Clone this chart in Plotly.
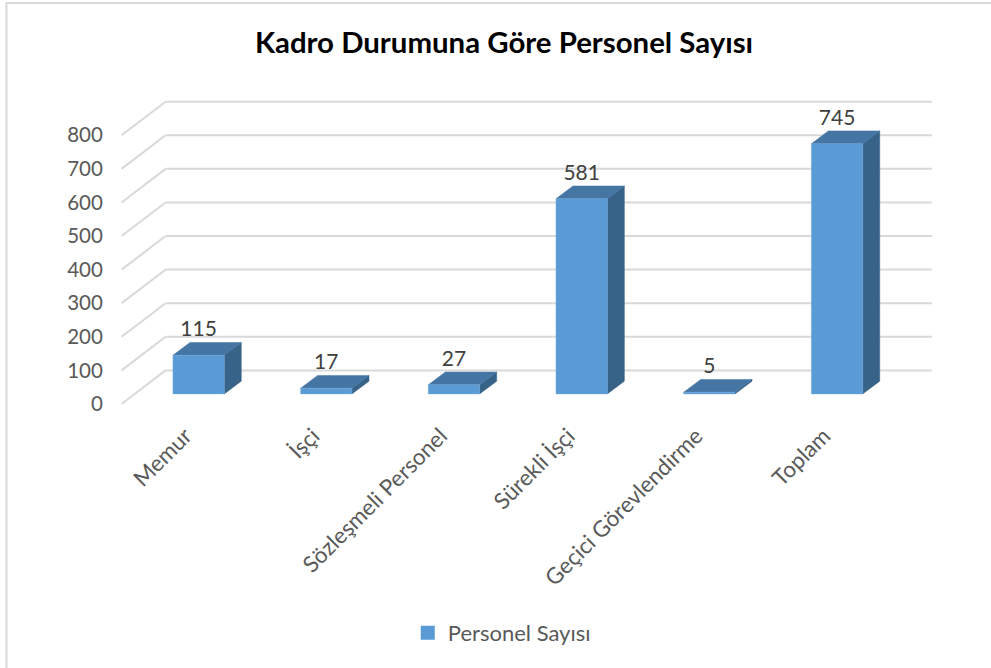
import plotly.graph_objects as go

categories = ["Memur", "İşçi", "Sözleşmeli Personel", "Sürekli İşçi", "Geçici Görevlendirme", "Toplam"]
values = [115, 17, 27, 581, 5, 745]
y_ticks = [0, 100, 200, 300, 400, 500, 600, 700, 800]
series_name = "Personel Sayısı"
title_text = "Kadro Durumuna Göre Personel Sayısı"

FONT = "Lato"
FRONT, TOP, SIDE = "#5B9BD5", "#4475A3", "#386388"
GRID, TXT, LABEL = "#D9D9D9", "#595959", "#404040"

W, H = 991, 668
PX_X, PX_Y = 127.6, 0.336
X0_PX, Y0_PX = 122, 404            # pixel of category-edge / value 0 on the front plane
WALL_DX, WALL_DY = 44 / PX_X, 100  # depth of the chart box
BAR_W = 51.3 / PX_X
BAR_DX, BAR_DY = 17 / PX_X, 38     # depth of a bar
BASE_DX, BASE_DY = 13.2 / PX_X, 30 # offset of the bar front from the box front
LABEL_GAP = 72

n = len(categories)
xr = [-0.5 - 0.02, n - 0.5 + WALL_DX + 0.01]
yr = [-12, 905]
m_l = X0_PX + (xr[0] + 0.5) * PX_X
m_r = W - (X0_PX + (xr[1] + 0.5) * PX_X)
m_b = H - (Y0_PX - yr[0] * PX_Y)
m_t = Y0_PX - yr[1] * PX_Y
plot_w, plot_h = W - m_l - m_r, H - m_t - m_b


def paper_x(px):
    return (px - m_l) / plot_w


def paper_y(py):
    return (H - py - m_b) / plot_h


fig = go.Figure()
centers = [i + BASE_DX for i in range(n)]

for cx, v in zip(centers, values):
    l, r = cx - BAR_W / 2, cx + BAR_W / 2
    t = BASE_DY + v
    fig.add_trace(go.Scatter(
        x=[r, r + BAR_DX, r + BAR_DX, r, r],
        y=[BASE_DY, BASE_DY + BAR_DY, t + BAR_DY, t, BASE_DY],
        mode="lines", fill="toself", fillcolor=SIDE,
        line=dict(color=SIDE, width=0.5), showlegend=False, hoverinfo="skip"))
    fig.add_trace(go.Scatter(
        x=[l, l + BAR_DX, r + BAR_DX, r, l],
        y=[t, t + BAR_DY, t + BAR_DY, t, t],
        mode="lines", fill="toself", fillcolor=TOP,
        line=dict(color=TOP, width=0.5), showlegend=False, hoverinfo="skip"))
    fig.add_trace(go.Scatter(
        x=[l, r, r, l, l], y=[BASE_DY, BASE_DY, t, t, BASE_DY],
        mode="lines", fill="toself", fillcolor=FRONT,
        line=dict(color="#6FA8DC", width=0.5), showlegend=False, hoverinfo="skip"))

fig.add_trace(go.Scatter(
    x=centers, y=[BASE_DY + v + LABEL_GAP for v in values],
    mode="text", text=[str(v) for v in values], textposition="middle center",
    textfont=dict(family=FONT, size=21, color=LABEL),
    showlegend=False, hoverinfo="skip"))

fig.add_trace(go.Scatter(
    x=[None], y=[None], mode="markers", name=series_name,
    marker=dict(symbol="square", size=14, color=FRONT)))

for v in y_ticks:
    fig.add_shape(type="line", layer="below", xref="x", yref="y",
                  x0=-0.5, y0=v, x1=-0.5 + WALL_DX, y1=v + WALL_DY,
                  line=dict(color=GRID, width=2))
    fig.add_shape(type="line", layer="below", xref="x", yref="y",
                  x0=-0.5 + WALL_DX, y0=v + WALL_DY, x1=n - 0.5 + WALL_DX, y1=v + WALL_DY,
                  line=dict(color=GRID, width=2))

# outer frame of the chart: only the left and top edges are in the picture
fig.add_shape(type="line", xref="paper", yref="paper", layer="below",
              x0=paper_x(7), x1=paper_x(7), y0=paper_y(H + 2), y1=paper_y(3),
              line=dict(color=GRID, width=2))
fig.add_shape(type="line", xref="paper", yref="paper", layer="below",
              x0=paper_x(6), x1=paper_x(W), y0=paper_y(3), y1=paper_y(3),
              line=dict(color=GRID, width=2))

fig.update_layout(
    width=W, height=H, autosize=False,
    margin=dict(l=m_l, r=m_r, t=m_t, b=m_b, pad=0),
    paper_bgcolor="white", plot_bgcolor="rgba(0,0,0,0)",
    font=dict(family=FONT, color=TXT),
    title=dict(text=f"<b>{title_text}</b>", x=504 / W, xanchor="center", y=1 - 43 / H,
               yanchor="middle", font=dict(family=FONT, size=29.4, color="#000000")),
    xaxis=dict(range=xr, tickmode="array", tickvals=list(range(n)), ticktext=categories,
               tickangle=-45, showgrid=False, zeroline=False, showline=False,
               ticks="outside", ticklen=5, tickcolor="rgba(0,0,0,0)",
               tickfont=dict(family=FONT, size=22.4, color=TXT)),
    yaxis=dict(range=yr, tickmode="array", tickvals=y_ticks,
               showgrid=False, zeroline=False, showline=False,
               ticks="outside", ticklen=11, tickcolor="rgba(0,0,0,0)",
               tickfont=dict(family=FONT, size=20.5, color=TXT)),
    legend=dict(orientation="h", x=paper_x(408), xanchor="left", y=paper_y(633), yanchor="middle",
                font=dict(family=FONT, size=22, color=TXT), bgcolor="rgba(0,0,0,0)"),
    hovermode=False,
)

fig.write_html("out.html", config={"displayModeBar": False},
               post_script="document.body.style.margin='0';document.documentElement.style.overflow='hidden';")
